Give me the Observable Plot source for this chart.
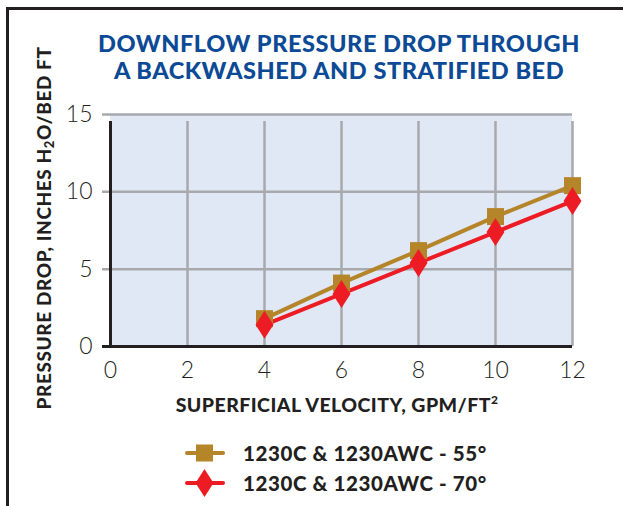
<!DOCTYPE html>
<html>
<head>
<meta charset="utf-8">
<script src="https://cdn.jsdelivr.net/npm/d3@7"></script>
<script src="https://cdn.jsdelivr.net/npm/@observablehq/plot@0.6"></script>
<style>
  html, body { margin: 0; padding: 0; background: #fff; }
  #wrap { position: relative; width: 623px; height: 506px; overflow: hidden; font-family: Lato, "DejaVu Sans", sans-serif; color: #231f20; }
  #frame { position: absolute; left: 6px; top: 7px; width: 640px; height: 520px; border-top: 3px solid #231f20; border-left: 3px solid #231f20; }
  #chart { position: absolute; left: 0; top: 0; }
  #title { position: absolute; left: 339px; top: 31px; transform: translateX(-50%) scaleX(1.07); white-space: nowrap; text-align: center; font-weight: 900; font-size: 22px; line-height: 26.5px; letter-spacing: 0.5px; color: #0d4a96; }
  #ylab { position: absolute; left: 44px; top: 228px; transform: translate(-50%, -50%) rotate(-90deg); white-space: nowrap; font-weight: 900; font-size: 19px; letter-spacing: 0.6px; }
  #xlab { position: absolute; left: 337px; top: 392px; transform: translateX(-50%); white-space: nowrap; font-weight: 900; font-size: 19.5px; letter-spacing: 0.45px; }
  .leg { position: absolute; left: 185px; display: flex; align-items: center; white-space: nowrap; font-weight: 900; font-size: 20.5px; letter-spacing: 0.6px; }
  .leg svg { margin-right: 18px; }
</style>
</head>
<body>
<div id="wrap">
  <div id="frame"></div>
  <div id="chart"></div>
  <div id="title">DOWNFLOW PRESSURE DROP THROUGH<br>A BACKWASHED AND STRATIFIED BED</div>
  <div id="ylab">PRESSURE DROP, INCHES H<sub style="font-size:13px;vertical-align:-3px">2</sub>O/BED FT</div>
  <div id="xlab">SUPERFICIAL VELOCITY, GPM/FT<sup style="font-size:12px;vertical-align:8px">2</sup></div>
  <div id="legend"></div>
</div>
<script>
const velocity = [4, 6, 8, 10, 12];
const drop55 = [1.8, 4.1, 6.2, 8.4, 10.4];
const drop70 = [1.4, 3.4, 5.4, 7.4, 9.4];
const seriesNames = ["1230C & 1230AWC - 55°", "1230C & 1230AWC - 70°"];
const seriesColors = ["#b5852a", "#ed1c24"];
const xTicks = [0, 2, 4, 6, 8, 10, 12];
const yTicks = [0, 5, 10, 15];

const data = [
  ...velocity.map((v, i) => ({x: v, y: drop55[i], s: seriesNames[0]})),
  ...velocity.map((v, i) => ({x: v, y: drop70[i], s: seriesNames[1]}))
];

const tallDiamond = {
  draw(ctx, size) {
    const r = Math.sqrt(size / Math.PI);
    const w = r * 0.64;
    ctx.moveTo(0, -r); ctx.lineTo(w, 0); ctx.lineTo(0, r); ctx.lineTo(-w, 0); ctx.closePath();
  }
};
const squareSym = {
  draw(ctx, size) {
    const r = Math.sqrt(size / Math.PI);
    ctx.rect(-r, -r, 2 * r, 2 * r);
  }
};

const gray = "#a7a9ac";
const dark = "#231f20";

const chart = Plot.plot({
  width: 623,
  height: 506,
  marginLeft: 110,
  marginRight: 51,
  marginTop: 114,
  marginBottom: 160,
  x: {domain: [0, 12], axis: null},
  y: {domain: [0, 15], axis: null},
  style: {fontFamily: "Lato, 'DejaVu Sans', sans-serif", background: "transparent", overflow: "visible"},
  marks: [
    Plot.rect([0], {x1: 0, x2: 12, y1: 0, y2: 15, fill: "#e1e8f5"}),
    Plot.ruleX(xTicks.filter(d => d > 0), {x: d => d, y1: 0, y2: 15, insetBottom: -7, stroke: gray, strokeWidth: 2.5}),
    Plot.ruleY(yTicks.filter(d => d > 0), {y: d => d, x1: 0, x2: 12, insetLeft: -8, stroke: gray, strokeWidth: 2.5}),
    Plot.ruleX([0], {y1: 0, y2: 15, insetBottom: -7, stroke: dark, strokeWidth: 3}),
    Plot.ruleY([0], {x1: 0, x2: 12, insetLeft: -8, stroke: dark, strokeWidth: 3}),
    Plot.text(xTicks, {x: d => d, y: 0, text: d => String(d), dy: 24, fontSize: 23, fontWeight: 300, fill: dark}),
    Plot.text(yTicks, {y: d => d, x: 0, text: d => String(d), dx: -18, textAnchor: "end", fontSize: 23, fontWeight: 300, fill: dark}),
    Plot.line(data, {x: "x", y: "y", z: "s", stroke: "s", strokeWidth: 4}),
    Plot.dot(data.filter(d => d.s === seriesNames[0]), {x: "x", y: "y", r: 8.5, symbol: () => squareSym, fill: seriesColors[0], stroke: "none"}),
    Plot.dot(data.filter(d => d.s === seriesNames[1]), {x: "x", y: "y", r: 14, symbol: () => tallDiamond, fill: seriesColors[1], stroke: "none"})
  ],
  color: {domain: seriesNames, range: seriesColors},
  symbol: {domain: [squareSym, tallDiamond], range: [squareSym, tallDiamond]}
});
document.getElementById("chart").appendChild(chart);

// legend
const legend = document.getElementById("legend");
const tops = [438, 468];
seriesNames.forEach((name, i) => {
  const div = document.createElement("div");
  div.className = "leg";
  div.style.top = tops[i] + "px";
  const c = seriesColors[i];
  const marker = i === 0
    ? `<rect x="11" y="6.5" width="17" height="17" fill="${c}"/>`
    : `<path d="M19.5,1 L28.5,15 L19.5,29 L10.5,15 Z" fill="${c}"/>`;
  div.innerHTML = `<svg width="40" height="30" viewBox="0 0 40 30"><line x1="2" x2="38" y1="15" y2="15" stroke="${c}" stroke-width="4" stroke-linecap="round"/>${marker}</svg><span>${name}</span>`;
  legend.appendChild(div);
});
</script>
</body>
</html>
